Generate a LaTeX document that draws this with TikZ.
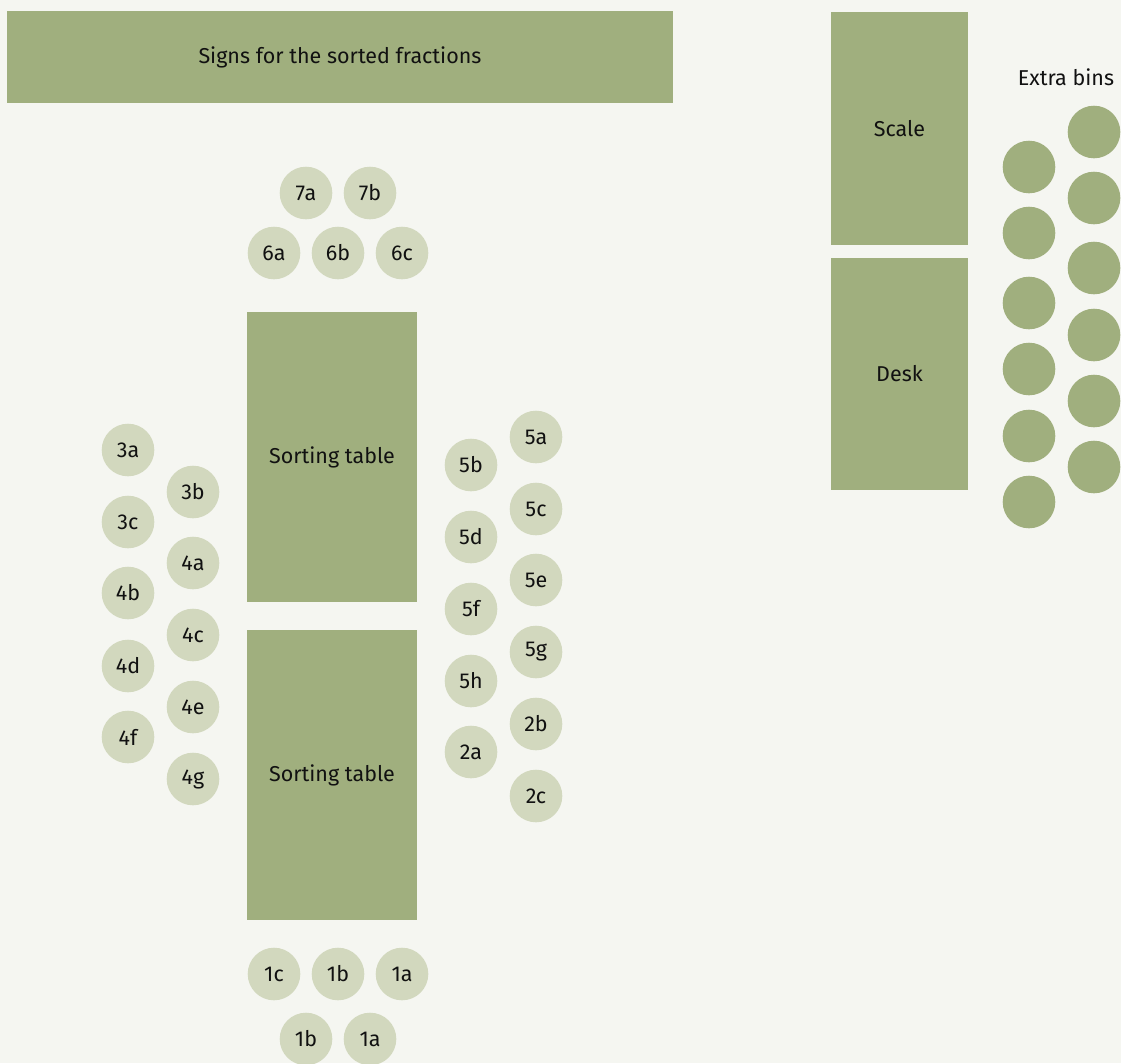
\documentclass[tikz,border=0pt]{standalone}
\usepackage{fontspec}
\setmainfont{Fira Sans}
\usepackage{tikz}
\usetikzlibrary{positioning}

\definecolor{floorbg}{RGB}{245,246,241}
\definecolor{tablegreen}{RGB}{160,175,126}
\definecolor{binlight}{RGB}{210,216,190}
\definecolor{labelink}{RGB}{17,17,17}

\tikzset{
  furniture/.style={rectangle, fill=tablegreen, inner sep=0pt, text=labelink,
    font=\fontsize{21.5}{25}\selectfont},
  bin/.style={circle, fill=binlight, minimum size=52.6pt, inner sep=0pt, text=labelink,
    font=\fontsize{21.5}{25}\selectfont},
  extrabin/.style={circle, fill=tablegreen, minimum size=52.6pt, inner sep=0pt}
}

\begin{document}
\begin{tikzpicture}[x=1pt, y=-1pt]
    % Canvas
    \fill[floorbg] (0,0) rectangle (1121,1063);
    \useasboundingbox (0,0) rectangle (1121,1063);

    % Signs, tables and desk
    \node[furniture, minimum width=666pt, minimum height=92pt] (signs) at (340,57) {Signs for the sorted fractions};
    \node[furniture, minimum width=170pt, minimum height=290pt] (sorttop) at (332,457) {Sorting table};
    \node[furniture, minimum width=170pt, minimum height=290pt] (sortbot) at (332,775) {Sorting table};
    \node[furniture, minimum width=137pt, minimum height=233pt] (scale) at (899.5,128.5) {Scale};
    \node[furniture, minimum width=137pt, minimum height=232pt] (desk) at (899.5,374) {Desk};

    % Bins above the tables
    \node[bin] (b7a) at (306,193) {7a};
    \node[bin] (b7b) at (370,193) {7b};
    \node[bin] (b6a) at (274,253) {6a};
    \node[bin] (b6b) at (338,253) {6b};
    \node[bin] (b6c) at (402,253) {6c};

    % Bins left of the tables
    \node[bin] (b3a) at (128,450) {3a};
    \node[bin] (b3b) at (193,492) {3b};
    \node[bin] (b3c) at (128,522) {3c};
    \node[bin] (b4a) at (193,563) {4a};
    \node[bin] (b4b) at (128,593) {4b};
    \node[bin] (b4c) at (193,635) {4c};
    \node[bin] (b4d) at (128,666) {4d};
    \node[bin] (b4e) at (193,707) {4e};
    \node[bin] (b4f) at (128,737) {4f};
    \node[bin] (b4g) at (193,779) {4g};

    % Bins right of the tables
    \node[bin] (b5a) at (536,437) {5a};
    \node[bin] (b5b) at (471,465) {5b};
    \node[bin] (b5c) at (536,509) {5c};
    \node[bin] (b5d) at (471,537) {5d};
    \node[bin] (b5e) at (536,580) {5e};
    \node[bin] (b5f) at (471,609) {5f};
    \node[bin] (b5g) at (536,652) {5g};
    \node[bin] (b5h) at (471,681) {5h};
    \node[bin] (b2b) at (536,724) {2b};
    \node[bin] (b2a) at (471,752) {2a};
    \node[bin] (b2c) at (536,796) {2c};

    % Bins below the tables
    \node[bin] (b1c) at (274,974) {1c};
    \node[bin] (b1b) at (338,974) {1b};
    \node[bin] (b1a) at (402,974) {1a};
    \node[bin] (b1bb) at (306,1039) {1b};
    \node[bin] (b1ab) at (370,1039) {1a};

    % Extra bins
    \node[text=labelink, font=\fontsize{21.5}{25}\selectfont] (extra) at (1066,77) {Extra bins};
    \node[extrabin] (x1) at (1029,167) {};
    \node[extrabin] (x2) at (1029,233) {};
    \node[extrabin] (x3) at (1029,303) {};
    \node[extrabin] (x4) at (1029,369) {};
    \node[extrabin] (x5) at (1029,436) {};
    \node[extrabin] (x6) at (1029,502) {};
    \node[extrabin] (y1) at (1094,132) {};
    \node[extrabin] (y2) at (1094,198) {};
    \node[extrabin] (y3) at (1094,268) {};
    \node[extrabin] (y4) at (1094,335) {};
    \node[extrabin] (y5) at (1094,401) {};
    \node[extrabin] (y6) at (1094,467) {};
\end{tikzpicture}
\end{document}
